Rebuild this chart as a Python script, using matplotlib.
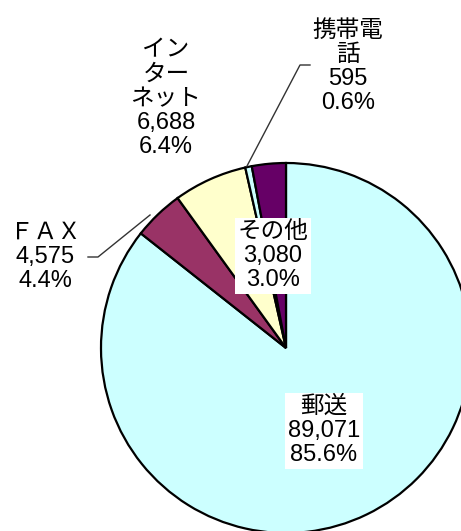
import matplotlib
matplotlib.use("Agg")
import matplotlib.pyplot as plt

# データ
categories = ["郵送", "ＦＡＸ", "インターネット", "携帯電話", "その他"]
label_names = ["郵送", "ＦＡＸ", "イン\nター\nネット", "携帯電\n話", "その他"]
values = [89071, 4575, 6688, 595, 3080]
colors = ["#CCFFFF", "#993366", "#FFFFCC", "#CCFFFF", "#660066"]

total = sum(values)
W, H = 461, 531

plt.rcParams['font.family'] = ['Liberation Sans', 'Noto Sans CJK JP']

fig = plt.figure(figsize=(W / 100, H / 100), dpi=100)
ax = fig.add_axes([0, 0, 1, 1])

cx, cy, r = 286, H - 348, 185
ax.pie(values, colors=colors, startangle=90, counterclock=False,
       center=(cx, cy), radius=r, frame=True,
       wedgeprops=dict(edgecolor='black', linewidth=1.6))
ax.set_xlim(0, W)
ax.set_ylim(0, H)
ax.axis('off')


def label(i):
    return "{}\n{:,}\n{:.1f}%".format(label_names[i], values[i], values[i] / total * 100)


fs = 17
ls = 1.13
box = dict(facecolor='white', edgecolor='none', pad=2)
# 郵送 / その他 (白背景)
ax.text(324, H - 431, label(0), ha='center', va='center', fontsize=fs,
        linespacing=ls, bbox=box)
ax.text(273, H - 256, label(4), ha='center', va='center', fontsize=fs,
        linespacing=ls, bbox=box)
# 外側ラベル
ax.text(45, H - 257, label(1), ha='center', va='center', fontsize=fs, linespacing=ls)
ax.text(166, H - 99, label(2), ha='center', va='center', fontsize=fs, linespacing=ls)
ax.text(348, H - 67, label(3), ha='center', va='center', fontsize=fs, linespacing=ls)

# 引き出し線
ax.plot([88, 98, 150], [H - 257, H - 257, H - 215], color='#333333', lw=1)
ax.plot([310, 300, 247], [H - 65, H - 65, H - 166], color='#333333', lw=1)

fig.savefig("out.png", dpi=100)
